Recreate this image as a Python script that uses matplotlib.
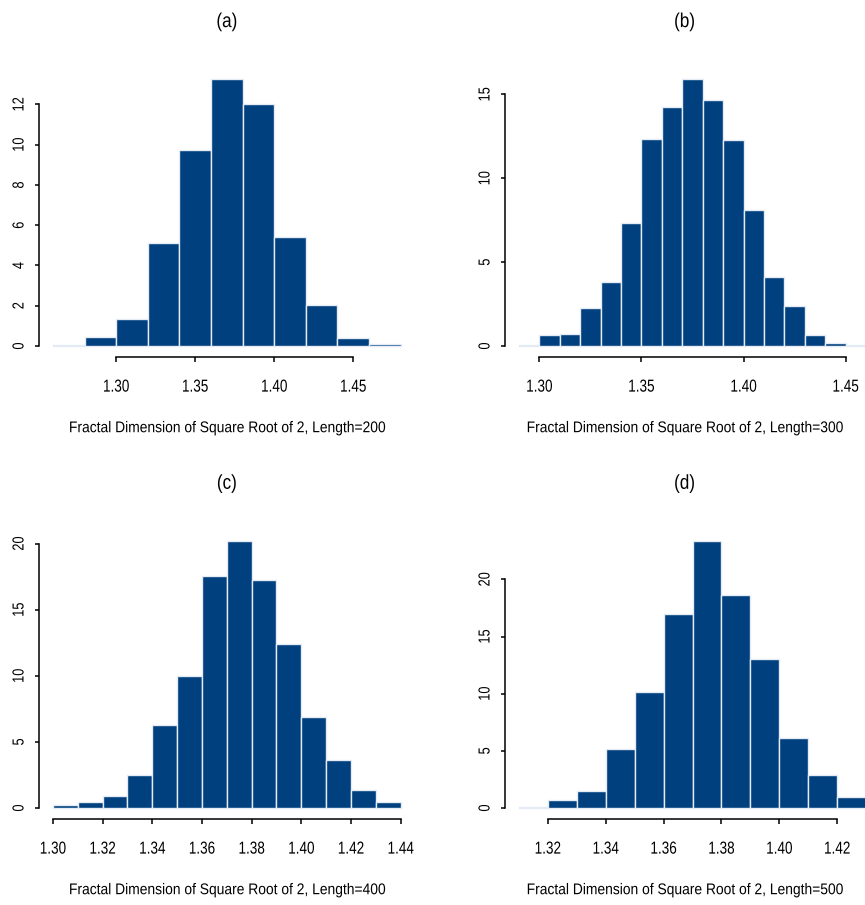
import matplotlib
matplotlib.use("Agg")
import matplotlib.pyplot as plt
from matplotlib import patheffects
from matplotlib.transforms import Affine2D

# density histograms (bin left edges + heights)
edges_a = [1.26, 1.28, 1.30, 1.32, 1.34, 1.36, 1.38, 1.40, 1.42, 1.44, 1.46]
dens_a = [0.05, 0.45, 1.35, 5.1, 9.75, 13.25, 12.0, 5.4, 2.05, 0.4, 0.1]

edges_b = [1.29, 1.30, 1.31, 1.32, 1.33, 1.34, 1.35, 1.36, 1.37,
           1.38, 1.39, 1.40, 1.41, 1.42, 1.43, 1.44, 1.45]
dens_b = [0.06, 0.64, 0.74, 2.25, 3.8, 7.33, 12.36, 14.27, 15.9,
          14.68, 12.3, 8.13, 4.09, 2.36, 0.68, 0.2, 0.06]

edges_c = [1.30, 1.31, 1.32, 1.33, 1.34, 1.35, 1.36,
           1.37, 1.38, 1.39, 1.40, 1.41, 1.42, 1.43]
dens_c = [0.2, 0.45, 0.93, 2.49, 6.27, 10.0, 17.58,
          20.2, 17.28, 12.39, 6.85, 3.6, 1.36, 0.43]

edges_d = [1.31, 1.32, 1.33, 1.34, 1.35, 1.36,
           1.37, 1.38, 1.39, 1.40, 1.41, 1.42]
dens_d = [0.06, 0.67, 1.52, 5.17, 10.19, 16.93,
          23.36, 18.63, 13.02, 6.16, 2.92, 0.99]

xticks_a = [1.30, 1.35, 1.40, 1.45]
xticks_b = [1.30, 1.35, 1.40, 1.45]
xticks_c = [1.30, 1.32, 1.34, 1.36, 1.38, 1.40, 1.42, 1.44]
xticks_d = [1.32, 1.34, 1.36, 1.38, 1.40, 1.42]

yticks_a = [0, 2, 4, 6, 8, 10, 12]
yticks_b = [0, 5, 10, 15]
yticks_c = [0, 5, 10, 15, 20]
yticks_d = [0, 5, 10, 15, 20]

titles = ["(a)", "(b)", "(c)", "(d)"]
lengths = [200, 300, 400, 500]

FILL = "#00407f"
EDGE = "#e4ebf4"
W, H = 865, 905

plt.rcParams["font.family"] = ["Liberation Sans", "DejaVu Sans"]


class Squeeze(patheffects.AbstractPathEffect):
    """Draw text narrower along its reading direction (R's condensed look)."""

    def __init__(self, factor, vertical=False):
        super().__init__()
        self.factor = factor
        self.vertical = vertical

    def draw_path(self, renderer, gc, tpath, affine, rgbFace=None):
        bb = tpath.get_extents(affine)
        cx, cy = bb.x0 + bb.width / 2, bb.y0 + bb.height / 2
        sx, sy = (1, self.factor) if self.vertical else (self.factor, 1)
        sq = Affine2D().translate(-cx, -cy).scale(sx, sy).translate(cx, cy)
        renderer.draw_path(gc, tpath, affine + sq, rgbFace)


def px_axes(fig, x0, y0, x1, y1):
    return fig.add_axes([x0 / W, 1 - y1 / H, (x1 - x0) / W, (y1 - y0) / H])


def draw_hist(ax, edges, dens, xticks, yticks):
    width = round(edges[1] - edges[0], 4)
    ax.bar(edges, dens, width=width, align="edge", color=FILL,
           edgecolor=EDGE, linewidth=1.0)
    lo, hi = edges[0], edges[-1] + width
    pad = 0.04 * (hi - lo)
    ax.set_xlim(lo - pad, hi + pad)
    top = max(dens)
    ax.set_ylim(-0.04 * top, 1.04 * top)

    ax.spines["top"].set_visible(False)
    ax.spines["right"].set_visible(False)
    ax.spines["left"].set_bounds(yticks[0], yticks[-1])
    ax.spines["bottom"].set_bounds(xticks[0], xticks[-1])
    for s in ("left", "bottom"):
        ax.spines[s].set_linewidth(1.1)

    ax.set_xticks(xticks)
    ax.set_xticklabels([f"{t:.2f}" for t in xticks])
    ax.set_yticks(yticks)
    ax.set_yticklabels([str(t) for t in yticks])
    ax.tick_params(axis="x", direction="out", length=3.5, width=1.1,
                   labelsize=12.5, pad=13)
    ax.tick_params(axis="y", direction="out", length=3.0, width=1.1,
                   labelsize=11.5, pad=6)
    for lab in ax.get_xticklabels():
        lab.set_path_effects([Squeeze(0.78)])
    for lab in ax.get_yticklabels():
        lab.set_rotation(90)
        lab.set_va("center")
        lab.set_path_effects([Squeeze(0.8, vertical=True)])


fig = plt.figure(figsize=(W / 100, H / 100), dpi=100)

boxes = [(39, 68.6, 414.6, 356.7), (505, 68.6, 880, 356.7),
         (39, 530.3, 414.6, 818.7), (505, 530.3, 880, 818.7)]
data = [(edges_a, dens_a, xticks_a, yticks_a),
        (edges_b, dens_b, xticks_b, yticks_b),
        (edges_c, dens_c, xticks_c, yticks_c),
        (edges_d, dens_d, xticks_d, yticks_d)]

for i, (box, (e, d, xt, yt)) in enumerate(zip(boxes, data)):
    ax = px_axes(fig, *box)
    draw_hist(ax, e, d, xt, yt)
    # right-hand panels are cut at the picture edge, labels sit a bit left
    cx = (box[0] + box[2]) / 2 - (8 if i % 2 else 0)
    t = fig.text(cx / W, 1 - (box[1] - 47) / H, titles[i],
                 ha="center", va="center", fontsize=14.5)
    t.set_path_effects([Squeeze(0.85)])
    xl = fig.text(cx / W, 1 - (box[3] + 71) / H,
                  f"Fractal Dimension of Square Root of 2, Length={lengths[i]}",
                  ha="center", va="center", fontsize=11.2)
    xl.set_path_effects([Squeeze(0.89)])

fig.savefig("out.png", dpi=100)
plt.close(fig)
